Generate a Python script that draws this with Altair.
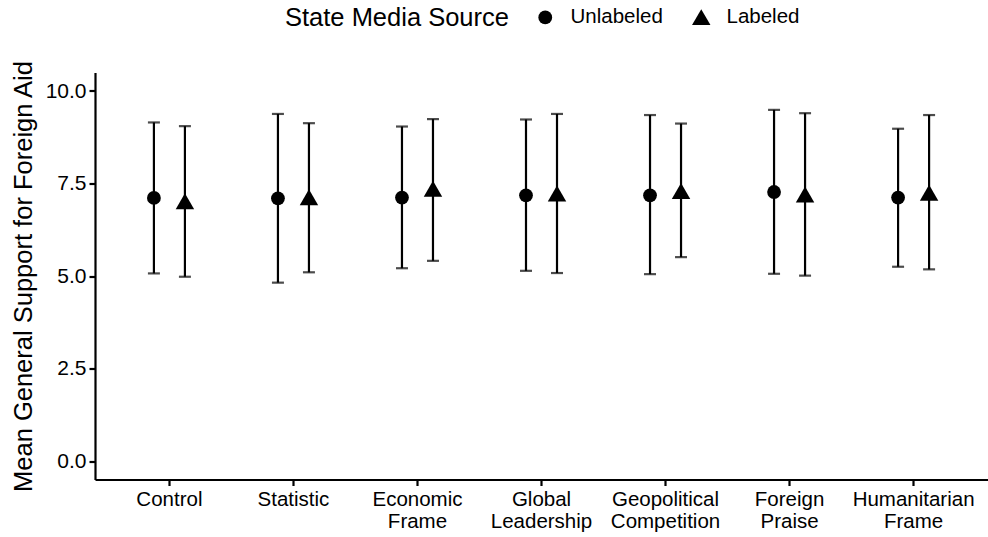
import altair as alt
import pandas as pd

# Experimental conditions (x axis) and state-media source (dodge / marker shape)
conditions = [
    "Control",
    "Statistic",
    "Economic\nFrame",
    "Global\nLeadership",
    "Geopolitical\nCompetition",
    "Foreign\nPraise",
    "Humanitarian\nFrame",
]
sources = ["Unlabeled", "Labeled"]

# Mean support and the lower / upper ends of each error bar
unlabeled_mean = [7.11, 7.10, 7.12, 7.18, 7.18, 7.27, 7.12]
unlabeled_low = [5.07, 4.82, 5.21, 5.14, 5.05, 5.06, 5.25]
unlabeled_high = [9.15, 9.38, 9.04, 9.23, 9.35, 9.49, 8.98]

labeled_mean = [7.02, 7.13, 7.36, 7.23, 7.30, 7.20, 7.25]
labeled_low = [4.98, 5.10, 5.41, 5.08, 5.51, 5.01, 5.18]
labeled_high = [9.05, 9.13, 9.24, 9.38, 9.12, 9.40, 9.35]

y_ticks = [0, 2.5, 5, 7.5, 10]

rows = []
for i, cond in enumerate(conditions):
    rows.append(dict(cond=cond, src="Unlabeled", mean=unlabeled_mean[i],
                     lo=unlabeled_low[i], hi=unlabeled_high[i]))
    rows.append(dict(cond=cond, src="Labeled", mean=labeled_mean[i],
                     lo=labeled_low[i], hi=labeled_high[i]))
df = pd.DataFrame(rows)

FONT = "Liberation Sans"

x_enc = alt.X(
    "cond:N",
    sort=conditions,
    scale=alt.Scale(paddingInner=0, paddingOuter=0.1),
    axis=alt.Axis(
        title=None,
        labelAngle=0,
        labelExpr="split(datum.label, '\\n')",
        labelLineHeight=22,
        labelFontSize=20.5,
        labelPadding=4,
        labelLimit=300,
    ),
)
xoff_enc = alt.XOffset(
    "src:N", sort=sources, scale=alt.Scale(paddingInner=0, paddingOuter=1)
)
y_scale = alt.Scale(domain=[-0.5, 10.5], nice=False, zero=False)
y_axis = alt.Axis(
    title="Mean General Support for Foreign Aid",
    values=y_ticks,
    format=".1f",
    labelFontSize=21,
    labelPadding=3,
    titleFontSize=25.5,
    titlePadding=9,
    titleLimit=600,
)

base = alt.Chart(df).encode(x=x_enc, xOffset=xoff_enc)

bars = base.mark_rule(color="black", strokeWidth=2.2).encode(
    y=alt.Y("lo:Q", scale=y_scale, axis=y_axis), y2="hi:Q"
)
cap_low = base.mark_tick(orient="horizontal", size=12, thickness=2.2, color="black").encode(
    y=alt.Y("lo:Q", scale=y_scale)
)
cap_high = base.mark_tick(orient="horizontal", size=12, thickness=2.2, color="black").encode(
    y=alt.Y("hi:Q", scale=y_scale)
)

legend = alt.Legend(
    title="State Media Source",
    orient="none",
    direction="horizontal",
    titleOrient="left",
    legendX=190,
    legendY=-66,
    titleFontSize=25.5,
    titleFontWeight="normal",
    titleLimit=500,
    titlePadding=26,
    labelFontSize=20.5,
    labelOffset=15,
    labelLimit=300,
    columnPadding=26,
    symbolFillColor="black",
    symbolStrokeColor="black",
    symbolOpacity=1,
)

points = base.mark_point(filled=True, color="black", opacity=1).encode(
    y=alt.Y("mean:Q", scale=y_scale),
    shape=alt.Shape(
        "src:N",
        sort=sources,
        scale=alt.Scale(domain=sources, range=["circle", "triangle-up"]),
        legend=legend,
    ),
    size=alt.Size(
        "src:N",
        sort=sources,
        scale=alt.Scale(domain=sources, range=[190, 340]),
        legend=legend,
    ),
)

chart = (
    alt.layer(bars, cap_low, cap_high, points)
    .properties(
        width=893,
        height=407,
        padding={"left": 95, "top": 72.5, "right": 0, "bottom": 58},
        autosize=alt.AutoSizeParams(type="none"),
    )
    .configure(font=FONT)
    .configure_view(stroke=None)
    .configure_axis(
        grid=False,
        domainColor="black",
        domainWidth=2.2,
        tickColor="black",
        tickWidth=2.2,
        tickSize=6,
        labelColor="black",
        titleColor="black",
        titleFontWeight="normal",
        labelFont=FONT,
        titleFont=FONT,
    )
    .configure_legend(labelColor="black", titleColor="black", labelFont=FONT, titleFont=FONT)
)

chart.save("out.html", embed_options={"renderer": "svg", "actions": False})
